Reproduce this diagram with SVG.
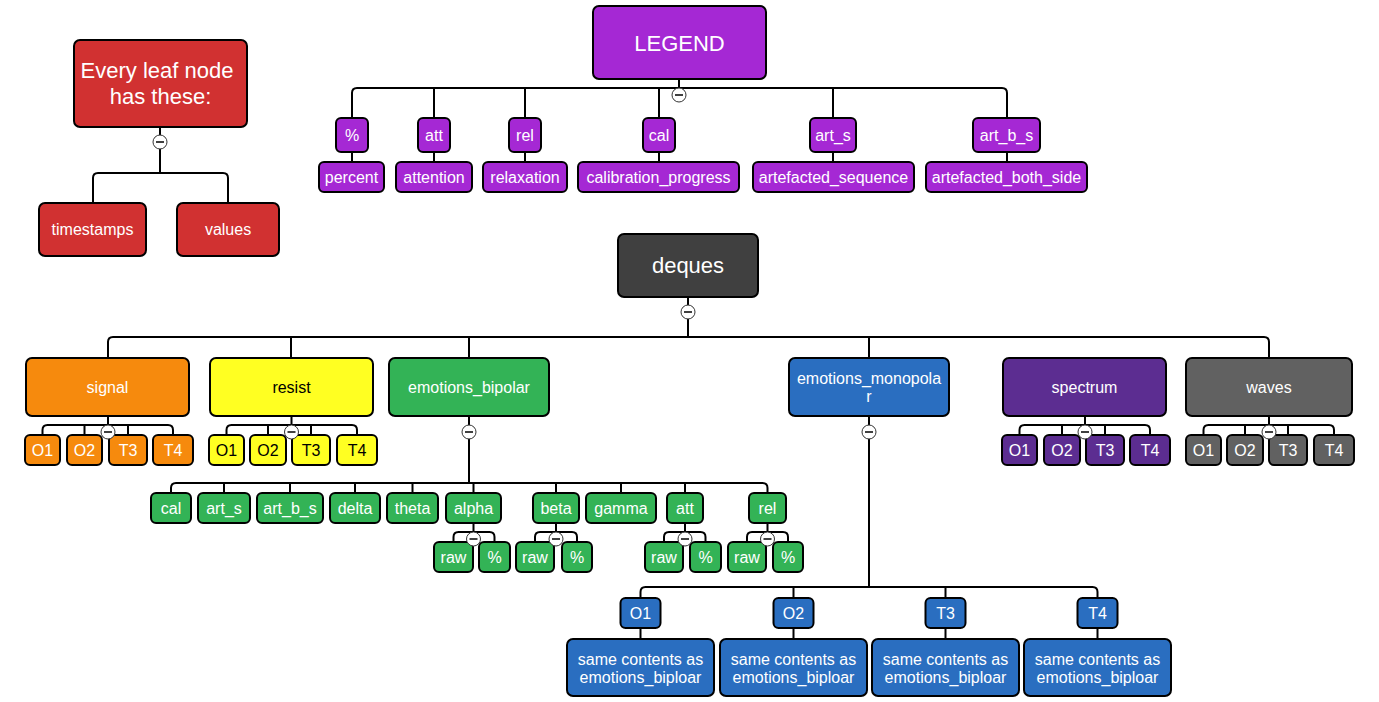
<svg xmlns="http://www.w3.org/2000/svg" width="1379" height="702" viewBox="0 0 1379 702">
<defs>
<style>
text{font-family:"Liberation Sans",Arial,sans-serif;font-size:16px;fill:#fff;text-anchor:middle}
.big{font-size:22px}
.dark{fill:#000}
g[id^="n-"] rect{stroke:#000;stroke-width:2}
.red{fill:#d13131}
.leg{fill:#a528d4}
.deq{fill:#404040}
.ora{fill:#f68a0d}
.yel{fill:#ffff22}
.grn{fill:#33b356}
.blu{fill:#2a6ec0}
.spe{fill:#5c2d91}
.wav{fill:#616161}
.c path{fill:none;stroke:#000;stroke-width:2}
</style>
<g id="tog"><circle cx="0" cy="0" r="7" fill="#fff" stroke="#333" stroke-width="1"/><path d="M-4,0H4" stroke="#000" stroke-width="1.5" fill="none"/></g>
</defs>
<rect width="1379" height="702" fill="#fff"/>

<g id="connectors" class="c">
<path d="M160,127V173M93,203V178Q93,173 98,173H223Q228,173 228,178V203"/>
<path d="M679,79V88M352,118V93Q352,88 357,88H1002Q1007,88 1007,93V118M434,88V118M525,88V118M659,88V118M833,88V118"/>
<path d="M352,152V162M434,152V162M525,152V162M659,152V162M833,152V162M1007,152V162"/>
<path d="M688,297V337M108,358V342Q108,337 113,337H1264Q1269,337 1269,342V358M291,337V358M469,337V358M869,337V358"/>
<path d="M108,416V425M42.5,435V430Q42.5,425 47.5,425H168Q173,425 173,430V435M84.5,425V435M128,425V435"/>
<path d="M291.5,416V425M226.5,435V430Q226.5,425 231.5,425H352Q357,425 357,430V435M268,425V435M311,425V435"/>
<path d="M1085,416V425M1019.5,435V430Q1019.5,425 1024.5,425H1145Q1150,425 1150,430V435M1062,425V435M1105,425V435"/>
<path d="M1269,416V425M1203.5,435V430Q1203.5,425 1208.5,425H1329Q1334,425 1334,430V435M1245,425V435M1288,425V435"/>
<path d="M469,416V483M171,493V488Q171,483 176,483H762.5Q767.5,483 767.5,488V493M224,483V493M290,483V493M355,483V493M412.5,483V493M473.5,483V493M556,483V493M621,483V493M685,483V493"/>
<path d="M473.5,523V532M453.5,542V537Q453.5,532 458.5,532H489.5Q494.5,532 494.5,537V542"/>
<path d="M556,523V532M535,542V537Q535,532 540,532H572Q577,532 577,537V542"/>
<path d="M685,523V532M664,542V537Q664,532 669,532H700.5Q705.5,532 705.5,537V542"/>
<path d="M767.5,523V532M747,542V537Q747,532 752,532H783Q788,532 788,537V542"/>
<path d="M869,416V587M640.5,598V592Q640.5,587 645.5,587H1092.5Q1097.5,587 1097.5,592V598M793.5,587V598M945.5,587V598"/>
<path d="M640.5,628V639M793.5,628V639M945.5,628V639M1097.5,628V639"/>
</g>

<g id="toggles">
<use href="#tog" x="160" y="142"/>
<use href="#tog" x="679" y="95"/>
<use href="#tog" x="688" y="312"/>
<use href="#tog" x="469" y="432"/>
<use href="#tog" x="869" y="432"/>
</g>

<g id="n-leaf"><rect class="red" x="74" y="40" width="173" height="87" rx="6"/><text class="big" x="157" y="78">Every leaf node</text><text class="big" x="160.5" y="104">has these:</text></g>
<g id="n-timestamps"><rect class="red" x="39" y="203" width="107" height="53" rx="6"/><text x="92.5" y="235">timestamps</text></g>
<g id="n-values"><rect class="red" x="177" y="203" width="102" height="53" rx="6"/><text x="228" y="235">values</text></g>

<g id="n-legend"><rect class="leg" x="593" y="6" width="173" height="73" rx="6"/><text class="big" x="679.5" y="50.5">LEGEND</text></g>
<g id="n-l-pct"><rect class="leg" x="336" y="118" width="32" height="34" rx="5"/><text x="352" y="141">%</text></g>
<g id="n-l-att"><rect class="leg" x="418" y="118" width="32" height="34" rx="5"/><text x="434" y="141">att</text></g>
<g id="n-l-rel"><rect class="leg" x="509" y="118" width="32" height="34" rx="5"/><text x="525" y="141">rel</text></g>
<g id="n-l-cal"><rect class="leg" x="643" y="118" width="32" height="34" rx="5"/><text x="659" y="141">cal</text></g>
<g id="n-l-arts"><rect class="leg" x="810" y="118" width="46" height="34" rx="5"/><text x="833" y="141">art_s</text></g>
<g id="n-l-artbs"><rect class="leg" x="973" y="118" width="67" height="34" rx="5"/><text x="1006.5" y="141">art_b_s</text></g>
<g id="n-l-percent"><rect class="leg" x="319" y="162" width="65" height="30" rx="5"/><text x="351.5" y="183">percent</text></g>
<g id="n-l-attention"><rect class="leg" x="396" y="162" width="76" height="30" rx="5"/><text x="434" y="183">attention</text></g>
<g id="n-l-relaxation"><rect class="leg" x="483" y="162" width="84" height="30" rx="5"/><text x="525" y="183">relaxation</text></g>
<g id="n-l-calprog"><rect class="leg" x="578" y="162" width="161" height="30" rx="5"/><text x="658.5" y="183">calibration_progress</text></g>
<g id="n-l-artseq"><rect class="leg" x="753" y="162" width="161" height="30" rx="5"/><text x="833.5" y="183">artefacted_sequence</text></g>
<g id="n-l-artboth"><rect class="leg" x="926" y="162" width="161" height="30" rx="5"/><text x="1006.5" y="183">artefacted_both_side</text></g>

<g id="n-deques"><rect class="deq" x="618" y="234" width="140" height="63" rx="6"/><text class="big" x="688" y="273">deques</text></g>

<g id="n-signal"><rect class="ora" x="26" y="358" width="163" height="58" rx="6"/><text x="107.5" y="393">signal</text></g>
<g id="n-resist"><rect class="yel" x="210" y="358" width="163" height="58" rx="6"/><text class="dark" x="291.5" y="393">resist</text></g>
<g id="n-bipolar"><rect class="grn" x="389" y="358" width="160" height="58" rx="6"/><text x="469" y="393">emotions_bipolar</text></g>
<g id="n-monopolar"><rect class="blu" x="789" y="358" width="160" height="58" rx="6"/><text x="869" y="384">emotions_monopola</text><text x="869" y="402">r</text></g>
<g id="n-spectrum"><rect class="spe" x="1003" y="358" width="163" height="58" rx="6"/><text x="1084.5" y="393">spectrum</text></g>
<g id="n-waves"><rect class="wav" x="1186" y="358" width="166" height="58" rx="6"/><text x="1269" y="393">waves</text></g>

<g id="n-sig-o1"><rect class="ora" x="25" y="435" width="35" height="30" rx="5"/><text x="42.5" y="456">O1</text></g>
<g id="n-sig-o2"><rect class="ora" x="67" y="435" width="35" height="30" rx="5"/><text x="84.5" y="456">O2</text></g>
<g id="n-sig-t3"><rect class="ora" x="109" y="435" width="38" height="30" rx="5"/><text x="128" y="456">T3</text></g>
<g id="n-sig-t4"><rect class="ora" x="153" y="435" width="40" height="30" rx="5"/><text x="173" y="456">T4</text></g>
<g id="n-res-o1"><rect class="yel" x="209" y="435" width="35" height="30" rx="5"/><text class="dark" x="226.5" y="456">O1</text></g>
<g id="n-res-o2"><rect class="yel" x="250" y="435" width="36" height="30" rx="5"/><text class="dark" x="268" y="456">O2</text></g>
<g id="n-res-t3"><rect class="yel" x="292" y="435" width="38" height="30" rx="5"/><text class="dark" x="311" y="456">T3</text></g>
<g id="n-res-t4"><rect class="yel" x="337" y="435" width="40" height="30" rx="5"/><text class="dark" x="357" y="456">T4</text></g>
<g id="n-spe-o1"><rect class="spe" x="1002" y="435" width="35" height="30" rx="5"/><text x="1019.5" y="456">O1</text></g>
<g id="n-spe-o2"><rect class="spe" x="1044" y="435" width="36" height="30" rx="5"/><text x="1062" y="456">O2</text></g>
<g id="n-spe-t3"><rect class="spe" x="1086" y="435" width="38" height="30" rx="5"/><text x="1105" y="456">T3</text></g>
<g id="n-spe-t4"><rect class="spe" x="1130" y="435" width="40" height="30" rx="5"/><text x="1150" y="456">T4</text></g>
<g id="n-wav-o1"><rect class="wav" x="1186" y="435" width="35" height="30" rx="5"/><text x="1203.5" y="456">O1</text></g>
<g id="n-wav-o2"><rect class="wav" x="1227" y="435" width="36" height="30" rx="5"/><text x="1245" y="456">O2</text></g>
<g id="n-wav-t3"><rect class="wav" x="1269" y="435" width="38" height="30" rx="5"/><text x="1288" y="456">T3</text></g>
<g id="n-wav-t4"><rect class="wav" x="1314" y="435" width="40" height="30" rx="5"/><text x="1334" y="456">T4</text></g>

<g id="n-bp-cal"><rect class="grn" x="151" y="493" width="40" height="30" rx="5"/><text x="171" y="514">cal</text></g>
<g id="n-bp-arts"><rect class="grn" x="198" y="493" width="52" height="30" rx="5"/><text x="224" y="514">art_s</text></g>
<g id="n-bp-artbs"><rect class="grn" x="257" y="493" width="66" height="30" rx="5"/><text x="290" y="514">art_b_s</text></g>
<g id="n-bp-delta"><rect class="grn" x="330" y="493" width="50" height="30" rx="5"/><text x="355" y="514">delta</text></g>
<g id="n-bp-theta"><rect class="grn" x="387" y="493" width="51" height="30" rx="5"/><text x="412.5" y="514">theta</text></g>
<g id="n-bp-alpha"><rect class="grn" x="446" y="493" width="55" height="30" rx="5"/><text x="473.5" y="514">alpha</text></g>
<g id="n-bp-beta"><rect class="grn" x="533" y="493" width="46" height="30" rx="5"/><text x="556" y="514">beta</text></g>
<g id="n-bp-gamma"><rect class="grn" x="586" y="493" width="70" height="30" rx="5"/><text x="621" y="514">gamma</text></g>
<g id="n-bp-att"><rect class="grn" x="667" y="493" width="36" height="30" rx="5"/><text x="685" y="514">att</text></g>
<g id="n-bp-rel"><rect class="grn" x="749" y="493" width="37" height="30" rx="5"/><text x="767.5" y="514">rel</text></g>

<g id="n-alpha-raw"><rect class="grn" x="434" y="542" width="39" height="30" rx="5"/><text x="453.5" y="563">raw</text></g>
<g id="n-alpha-pct"><rect class="grn" x="479" y="542" width="31" height="30" rx="5"/><text x="494.5" y="563">%</text></g>
<g id="n-beta-raw"><rect class="grn" x="516" y="542" width="38" height="30" rx="5"/><text x="535" y="563">raw</text></g>
<g id="n-beta-pct"><rect class="grn" x="562" y="542" width="30" height="30" rx="5"/><text x="577" y="563">%</text></g>
<g id="n-att-raw"><rect class="grn" x="645" y="542" width="38" height="30" rx="5"/><text x="664" y="563">raw</text></g>
<g id="n-att-pct"><rect class="grn" x="690" y="542" width="31" height="30" rx="5"/><text x="705.5" y="563">%</text></g>
<g id="n-rel-raw"><rect class="grn" x="728" y="542" width="38" height="30" rx="5"/><text x="747" y="563">raw</text></g>
<g id="n-rel-pct"><rect class="grn" x="773" y="542" width="30" height="30" rx="5"/><text x="788" y="563">%</text></g>

<g id="toggles-over">
<use href="#tog" x="108" y="432"/>
<use href="#tog" x="291.5" y="432"/>
<use href="#tog" x="1085" y="432"/>
<use href="#tog" x="1269" y="432"/>
<use href="#tog" x="473.5" y="539"/>
<use href="#tog" x="556" y="539"/>
<use href="#tog" x="685" y="539"/>
<use href="#tog" x="767.5" y="539"/>
</g>

<g id="n-mp-o1"><rect class="blu" x="620.5" y="598" width="40" height="30" rx="5"/><text x="640.5" y="619">O1</text></g>
<g id="n-mp-o2"><rect class="blu" x="773.5" y="598" width="40" height="30" rx="5"/><text x="793.5" y="619">O2</text></g>
<g id="n-mp-t3"><rect class="blu" x="925.5" y="598" width="40" height="30" rx="5"/><text x="945.5" y="619">T3</text></g>
<g id="n-mp-t4"><rect class="blu" x="1077.5" y="598" width="40" height="30" rx="5"/><text x="1097.5" y="619">T4</text></g>
<g id="n-mp-o1-s"><rect class="blu" x="567" y="639" width="147" height="57" rx="6"/><text x="640.5" y="665">same contents as</text><text x="640.5" y="683">emotions_biploar</text></g>
<g id="n-mp-o2-s"><rect class="blu" x="720" y="639" width="147" height="57" rx="6"/><text x="793.5" y="665">same contents as</text><text x="793.5" y="683">emotions_biploar</text></g>
<g id="n-mp-t3-s"><rect class="blu" x="872" y="639" width="147" height="57" rx="6"/><text x="945.5" y="665">same contents as</text><text x="945.5" y="683">emotions_biploar</text></g>
<g id="n-mp-t4-s"><rect class="blu" x="1024" y="639" width="147" height="57" rx="6"/><text x="1097.5" y="665">same contents as</text><text x="1097.5" y="683">emotions_biploar</text></g>
</svg>
